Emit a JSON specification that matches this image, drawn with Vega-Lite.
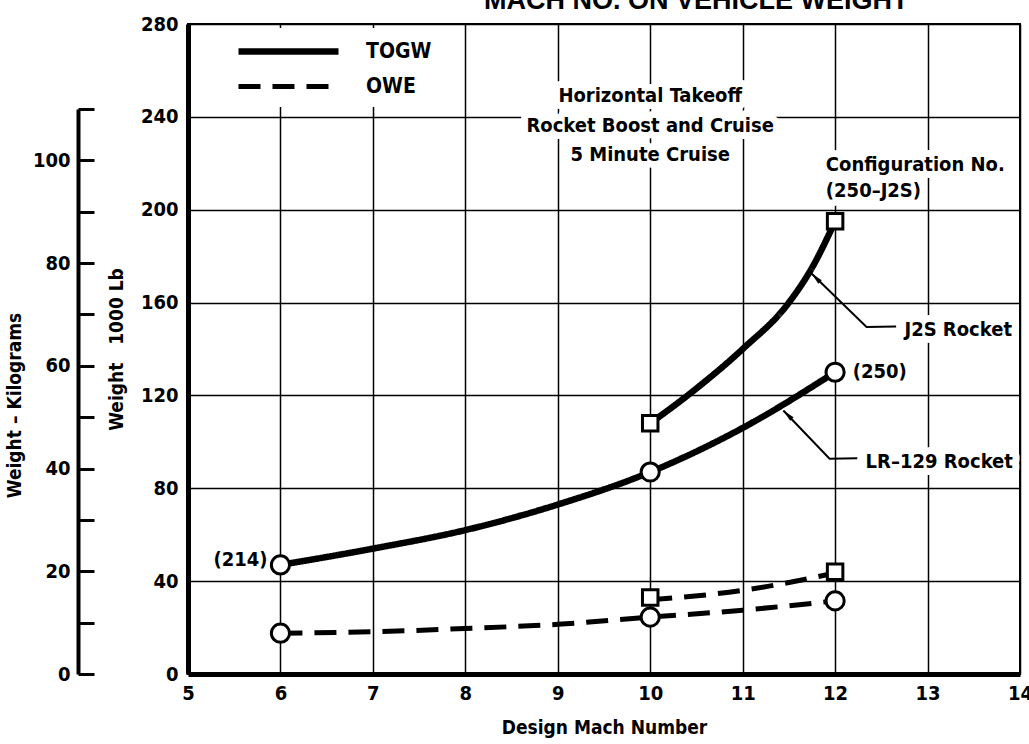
{
  "$schema": "https://vega.github.io/schema/vega-lite/v6.json",
  "autosize": {"type": "none"},
  "width": 832,
  "height": 650,
  "padding": {"left": 188, "top": 24, "right": 9, "bottom": 70},
  "background": "white",
  "config": {
    "font": "DejaVu Sans Condensed, Liberation Sans Narrow, Roboto, sans-serif",
    "view": {"stroke": "black", "strokeWidth": 2},
    "text": {"font": "DejaVu Sans Condensed, Liberation Sans Narrow, Roboto, sans-serif", "fontWeight": "bold", "fontSize": 20, "color": "black", "baseline": "middle"}
  },
  "title": {
    "text": "MACH NO. ON VEHICLE WEIGHT",
    "anchor": "start",
    "frame": "group",
    "dx": 296,
    "dy": 22,
    "offset": 0,
    "font": "Liberation Sans",
    "fontSize": 27,
    "fontWeight": "bold",
    "color": "black",
    "baseline": "alphabetic"
  },
  "datasets": {
    "curves": [
      {"config": "LR-129", "weight": "TOGW", "mach": 6, "w": 47},
      {"config": "LR-129", "weight": "TOGW", "mach": 7, "w": 54},
      {"config": "LR-129", "weight": "TOGW", "mach": 8, "w": 62},
      {"config": "LR-129", "weight": "TOGW", "mach": 9, "w": 73},
      {"config": "LR-129", "weight": "TOGW", "mach": 10, "w": 87},
      {"config": "LR-129", "weight": "TOGW", "mach": 11, "w": 106},
      {"config": "LR-129", "weight": "TOGW", "mach": 12, "w": 130},
      {"config": "J2S", "weight": "TOGW", "mach": 10, "w": 108},
      {"config": "J2S", "weight": "TOGW", "mach": 10.5, "w": 123},
      {"config": "J2S", "weight": "TOGW", "mach": 11, "w": 140},
      {"config": "J2S", "weight": "TOGW", "mach": 11.5, "w": 160},
      {"config": "J2S", "weight": "TOGW", "mach": 11.75, "w": 175},
      {"config": "J2S", "weight": "TOGW", "mach": 12, "w": 195},
      {"config": "LR-129", "weight": "OWE", "mach": 6, "w": 17.6},
      {"config": "LR-129", "weight": "OWE", "mach": 7, "w": 18.2},
      {"config": "LR-129", "weight": "OWE", "mach": 8, "w": 19.6},
      {"config": "LR-129", "weight": "OWE", "mach": 9, "w": 21.4},
      {"config": "LR-129", "weight": "OWE", "mach": 10, "w": 24.5},
      {"config": "LR-129", "weight": "OWE", "mach": 11, "w": 27.5},
      {"config": "LR-129", "weight": "OWE", "mach": 12, "w": 31.5},
      {"config": "J2S", "weight": "OWE", "mach": 10, "w": 32},
      {"config": "J2S", "weight": "OWE", "mach": 11, "w": 36},
      {"config": "J2S", "weight": "OWE", "mach": 12, "w": 43.5}
    ],
    "markers": [
      {"config": "LR-129", "mach": 6, "w": 47},
      {"config": "LR-129", "mach": 10, "w": 87},
      {"config": "LR-129", "mach": 12, "w": 130},
      {"config": "J2S", "mach": 10, "w": 108},
      {"config": "J2S", "mach": 12, "w": 195},
      {"config": "LR-129", "mach": 6, "w": 17.6},
      {"config": "LR-129", "mach": 10, "w": 24.5},
      {"config": "LR-129", "mach": 12, "w": 31.5},
      {"config": "J2S", "mach": 10, "w": 33},
      {"config": "J2S", "mach": 12, "w": 44}
    ],
    "leaders": [
      {"leader": "J2S", "seq": 1, "mach": 12.66, "w": 149.7},
      {"leader": "J2S", "seq": 2, "mach": 12.34, "w": 149.5},
      {"leader": "J2S", "seq": 3, "mach": 11.745, "w": 172.5},
      {"leader": "LR-129", "seq": 1, "mach": 12.24, "w": 92.9},
      {"leader": "LR-129", "seq": 2, "mach": 11.94, "w": 92.7},
      {"leader": "LR-129", "seq": 3, "mach": 11.44, "w": 113.5}
    ],
    "tips": [
      {"leader": "J2S", "mach": 11.745, "w": 172.5},
      {"leader": "LR-129", "mach": 11.44, "w": 113.5}
    ],
    "notesCenter": [
      {"mach": 10.0, "w": 249, "text": "Horizontal Takeoff"},
      {"mach": 10.0, "w": 236, "text": "Rocket Boost and Cruise"},
      {"mach": 10.0, "w": 223.5, "text": "5 Minute Cruise"}
    ],
    "notesLeft": [
      {"mach": 11.9, "w": 219.4, "text": "Configuration No."},
      {"mach": 11.9, "w": 208.2, "text": "(250–J2S)"},
      {"mach": 12.19, "w": 130, "text": "(250)"},
      {"mach": 12.75, "w": 148.4, "text": "J2S Rocket"},
      {"mach": 12.33, "w": 91.2, "text": "LR–129 Rocket"}
    ],
    "notesRight": [
      {"mach": 5.86, "w": 49, "text": "(214)"}
    ],
    "kg": [{"kg": 0}]
  },
  "resolve": {"scale": {"y": "independent"}, "axis": {"y": "independent"}},
  "layer": [
    {
      "layer": [
        {
          "data": {"name": "notesCenter"},
          "mark": {"type": "text", "align": "center", "stroke": "white", "strokeWidth": 14, "strokeJoin": "round", "color": "white"},
          "encoding": {
            "x": {"field": "mach", "type": "quantitative"},
            "y": {"field": "w", "type": "quantitative"},
            "text": {"field": "text"}
          }
        },
        {
          "data": {"name": "notesLeft"},
          "mark": {"type": "text", "align": "left", "stroke": "white", "strokeWidth": 14, "strokeJoin": "round", "color": "white"},
          "encoding": {
            "x": {"field": "mach", "type": "quantitative"},
            "y": {"field": "w", "type": "quantitative"},
            "text": {"field": "text"}
          }
        },
        {
          "data": {"name": "curves"},
          "mark": {"type": "line", "interpolate": "monotone", "color": "black", "strokeCap": "butt"},
          "encoding": {
            "x": {
              "field": "mach", "type": "quantitative",
              "scale": {"domain": [5, 14], "nice": false, "zero": false},
              "axis": {
                "title": "Design Mach Number",
                "values": [5, 6, 7, 8, 9, 10, 11, 12, 13, 14],
                "format": "d",
                "grid": true, "gridColor": "black", "gridWidth": 1.5, "gridOpacity": 1,
                "domain": true, "domainColor": "black", "domainWidth": 5,
                "ticks": false,
                "labelFontSize": 20, "labelFontWeight": "bold", "labelColor": "black",
                "labelPadding": 9, "labelFlush": false, "labelOverlap": false,
                "titleFontSize": 19, "titleFontWeight": "bold", "titleColor": "black",
                "titlePadding": 15
              }
            },
            "y": {
              "field": "w", "type": "quantitative",
              "scale": {"domain": [0, 280], "nice": false, "zero": true},
              "axis": {
                "title": "Weight\u00a0\u00a0\u00a01000 Lb",
                "values": [0, 40, 80, 120, 160, 200, 240, 280],
                "grid": true, "gridColor": "black", "gridWidth": 1.5, "gridOpacity": 1,
                "domain": true, "domainColor": "black", "domainWidth": 5,
                "ticks": false,
                "labelFontSize": 20, "labelFontWeight": "bold", "labelColor": "black",
                "labelPadding": 10, "labelOverlap": false,
                "titleFontSize": 19, "titleFontWeight": "bold", "titleColor": "black",
                "titlePadding": 14
              }
            },
            "detail": {"field": "config"},
            "strokeDash": {
              "field": "weight", "type": "nominal",
              "scale": {"domain": ["TOGW", "OWE"], "range": [[1, 0], [22, 12]]},
              "legend": {
                "orient": "none", "legendX": 27, "legendY": 4, "title": null,
                "symbolType": "M0,0H10", "symbolSize": 400, "symbolStrokeWidth": 6,
                "symbolStrokeColor": "black", "symbolFillColor": "transparent",
                "labelFontSize": 21, "labelFontWeight": "bold", "labelColor": "black",
                "labelOffset": 114, "rowPadding": 9, "fillColor": "white", "padding": 10
              }
            },
            "strokeWidth": {
              "field": "weight", "type": "nominal",
              "scale": {"domain": ["TOGW", "OWE"], "range": [6.5, 5]},
              "legend": null
            }
          }
        },
        {
          "data": {"name": "leaders"},
          "mark": {"type": "line", "color": "black", "strokeWidth": 2},
          "encoding": {
            "x": {"field": "mach", "type": "quantitative"},
            "y": {"field": "w", "type": "quantitative"},
            "detail": {"field": "leader"},
            "order": {"field": "seq"}
          }
        },
        {
          "data": {"name": "tips"},
          "mark": {"type": "point", "shape": "M0,0L0.4,2L-0.4,2Z", "size": 144, "angle": 315, "filled": true, "color": "black", "opacity": 1},
          "encoding": {
            "x": {"field": "mach", "type": "quantitative"},
            "y": {"field": "w", "type": "quantitative"}
          }
        },
        {
          "data": {"name": "markers"},
          "mark": {"type": "point", "filled": true, "fill": "white", "stroke": "black", "strokeWidth": 3, "opacity": 1},
          "encoding": {
            "x": {"field": "mach", "type": "quantitative"},
            "y": {"field": "w", "type": "quantitative"},
            "shape": {"field": "config", "type": "nominal", "scale": {"domain": ["LR-129", "J2S"], "range": ["circle", "square"]}, "legend": null},
            "size": {"field": "config", "type": "nominal", "scale": {"domain": ["LR-129", "J2S"], "range": [330, 240]}, "legend": null}
          }
        },
        {
          "data": {"name": "notesCenter"},
          "mark": {"type": "text", "align": "center"},
          "encoding": {
            "x": {"field": "mach", "type": "quantitative"},
            "y": {"field": "w", "type": "quantitative"},
            "text": {"field": "text"}
          }
        },
        {
          "data": {"name": "notesLeft"},
          "mark": {"type": "text", "align": "left"},
          "encoding": {
            "x": {"field": "mach", "type": "quantitative"},
            "y": {"field": "w", "type": "quantitative"},
            "text": {"field": "text"}
          }
        },
        {
          "data": {"name": "notesRight"},
          "mark": {"type": "text", "align": "right"},
          "encoding": {
            "x": {"field": "mach", "type": "quantitative"},
            "y": {"field": "w", "type": "quantitative"},
            "text": {"field": "text"}
          }
        }
      ]
    },
    {
      "data": {"name": "kg"},
      "mark": {"type": "point", "opacity": 0},
      "encoding": {
        "y": {
          "field": "kg", "type": "quantitative",
          "scale": {"domain": [0, 110], "range": [650, 85], "nice": false, "zero": true},
          "axis": {
            "orient": "left", "offset": 110,
            "title": "Weight – Kilograms",
            "titleY": 381,
            "values": [0, 10, 20, 30, 40, 50, 60, 70, 80, 90, 100, 110],
            "labelExpr": "datum.value % 20 === 0 ? datum.label : ''",
            "grid": false,
            "domain": true, "domainColor": "black", "domainWidth": 4,
            "ticks": true, "tickSize": -16, "tickWidth": 3, "tickColor": "black",
            "labelFontSize": 20, "labelFontWeight": "bold", "labelColor": "black",
            "labelPadding": 24, "labelOverlap": false,
            "titleFontSize": 19, "titleFontWeight": "bold", "titleColor": "black",
            "titlePadding": 8
          }
        }
      }
    }
  ]
}
